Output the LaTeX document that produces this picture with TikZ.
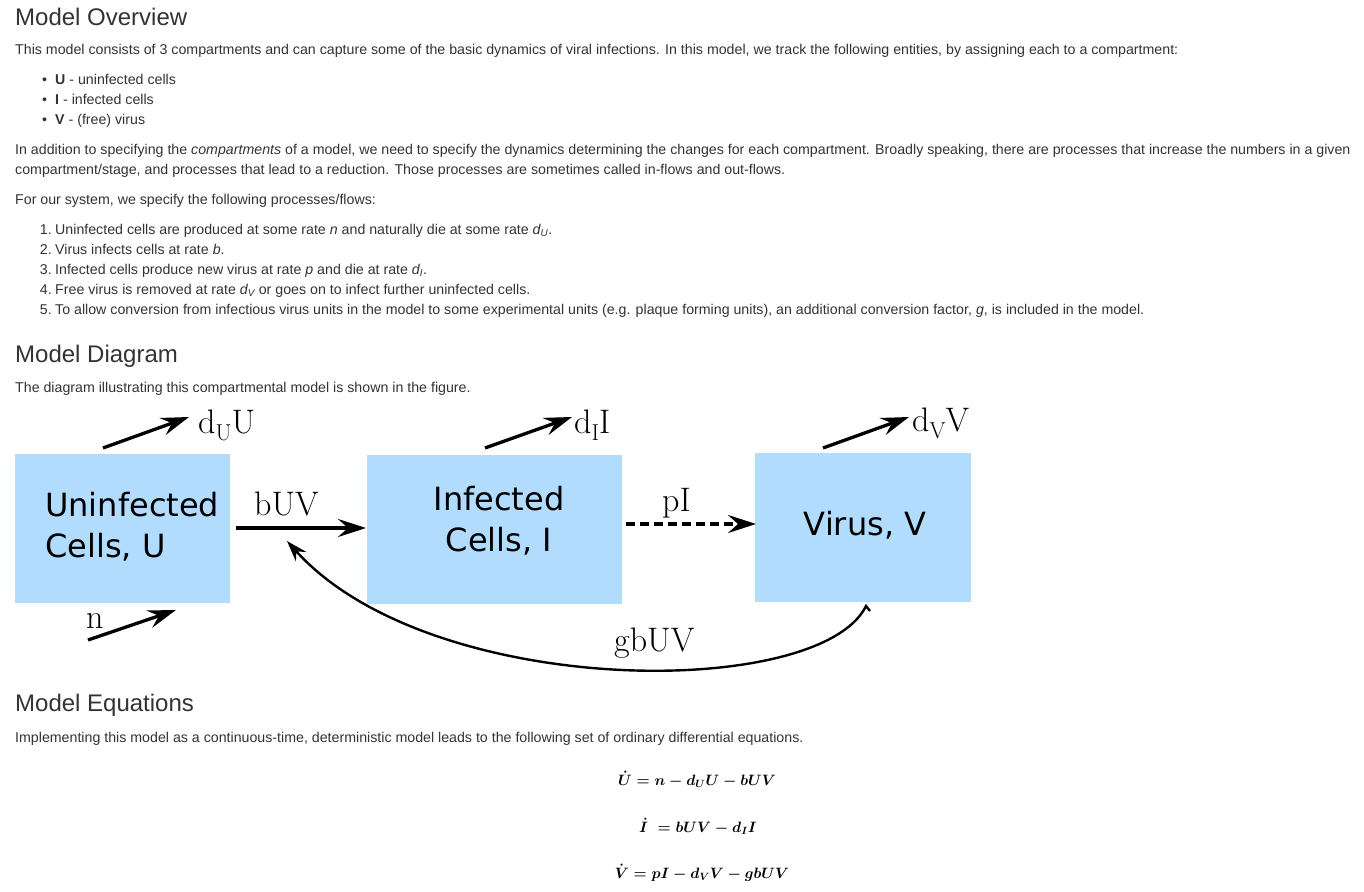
\documentclass[tikz,border=0pt]{standalone}
\usepackage{fix-cm}
\usepackage{amsmath}
\usepackage{fontspec}
\newfontfamily\arialf{Liberation Sans}
\newfontfamily\dejavu{DejaVu Sans}
\usetikzlibrary{arrows.meta}
\definecolor{txt}{HTML}{333333}
\definecolor{boxblue}{RGB}{178,220,254}
\newcommand{\subU}[1]{\raisebox{-0.22em}{\fontsize{23}{23}\selectfont #1}}
\begin{document}
\begin{tikzpicture}[x=1pt,y=-1pt,
  body/.style={font=\arialf\fontsize{14.2}{20}\selectfont, text=txt, anchor=base west, inner sep=0pt},
  num/.style={font=\arialf\fontsize{14.2}{20}\selectfont, text=txt, anchor=base east, inner sep=0pt},
  head/.style={font=\arialf\fontsize{24}{28}\selectfont, text=txt, anchor=base west, inner sep=0pt},
  comp/.style={fill=boxblue, draw=none, inner sep=0pt, anchor=north west},
  boxtext/.style={font=\dejavu\fontsize{32}{40}\selectfont, text=black, inner sep=0pt},
  lab/.style={font=\rmfamily\fontsize{34}{38}\selectfont, text=black, anchor=base west, inner sep=0pt},
  flow/.style={line width=3.3pt, -{Stealth[length=28pt,width=18pt,inset=10pt]}},
  dflow/.style={flow, dash pattern=on 9pt off 5pt},
  cflow/.style={line width=2.4pt, -{Stealth[length=21pt,width=14pt,inset=7pt]}},
  eq/.style={font=\fontsize{15}{18}\selectfont\boldmath, text=black, anchor=base, inner sep=0pt}
]
\useasboundingbox (0,0) rectangle (1364,891);
\fill[white] (0,0) rectangle (1364,891);

% ---- Model Overview ----
\node[head] (h1) at (15,26) {Model Overview};
\node[body] (p1) at (15,55) {This model consists of 3 compartments and can capture some of the basic dynamics of viral infections. In this model, we track the following entities, by assigning each to a compartment:};
\node[body] (b1) at (42,84) {•};
\node[body] (b2) at (42,104) {•};
\node[body] (b3) at (42,124) {•};
\node[body] (l1) at (55,84) {\textbf{U} - uninfected cells};
\node[body] (l2) at (55,104) {\textbf{I} - infected cells};
\node[body] (l3) at (55,124) {\textbf{V} - (free) virus};
\node[body] (p2a) at (15,154) {In addition to specifying the \textit{compartments} of a model, we need to specify the dynamics determining the changes for each compartment. Broadly speaking, there are processes that increase the numbers in a given};
\node[body] (p2b) at (15,174) {compartment/stage, and processes that lead to a reduction. Those processes are sometimes called in-flows and out-flows.};
\node[body] (p3) at (15,204) {For our system, we specify the following processes/flows:};
\node[num] (n1) at (52,234) {1.};
\node[num] (n2) at (52,254) {2.};
\node[num] (n3) at (52,274) {3.};
\node[num] (n4) at (52,294) {4.};
\node[num] (n5) at (52,314) {5.};
\node[body] (i1) at (55,234) {Uninfected cells are produced at some rate \textit{n} and naturally die at some rate \textit{d\textsubscript{U}}.};
\node[body] (i2) at (55,254) {Virus infects cells at rate \textit{b}.};
\node[body] (i3) at (55,274) {Infected cells produce new virus at rate \textit{p} and die at rate \textit{d\textsubscript{I}}.};
\node[body] (i4) at (55,294) {Free virus is removed at rate \textit{d\textsubscript{V}} or goes on to infect further uninfected cells.};
\node[body] (i5) at (55,314) {To allow conversion from infectious virus units in the model to some experimental units (e.g. plaque forming units), an additional conversion factor, \textit{g}, is included in the model.};

% ---- Model Diagram ----
\node[head] (h2) at (15,362) {Model Diagram};
\node[body] (p4) at (15,392) {The diagram illustrating this compartmental model is shown in the figure.};

\node[comp, minimum width=215, minimum height=149] (U) at (15,454) {};
\node[comp, minimum width=255, minimum height=149] (I) at (367,455) {};
\node[comp, minimum width=216, minimum height=149] (V) at (755,453) {};

\node[boxtext, anchor=base west] (Ut1) at (45,516) {Uninfected};
\node[boxtext, anchor=base west] (Ut2) at (45,557) {Cells, U};
\node[boxtext, anchor=base] (It1) at (499,510) {Infected};
\node[boxtext, anchor=base] (It2) at (499,551) {Cells, I};
\node[boxtext, anchor=base] (Vt) at (865,535) {Virus, V};

% connector end points
\coordinate (bs) at (236,528);
\coordinate (be) at (366,528);
\coordinate (ps) at (626,524);
\coordinate (pe) at (756,524);
\coordinate (dus) at (103,448);
\coordinate (due) at (189,417);
\coordinate (dis) at (485,448);
\coordinate (die) at (572,417);
\coordinate (dvs) at (823,448);
\coordinate (dve) at (909,417);
\coordinate (ns) at (88,640);
\coordinate (ne) at (176,610);
\coordinate (ghk) at (870,611);
\coordinate (gs) at (866,606);
\coordinate (ge) at (287,541);

\draw[flow] (bs) -- (be);
\draw[dflow] (ps) -- (pe);
\draw[flow] (dus) -- (due);
\draw[flow] (dis) -- (die);
\draw[flow] (dvs) -- (dve);
\draw[flow] (ns) -- (ne);
\draw[cflow] (ghk) -- (gs) .. controls (820,700) and (430,700) .. (ge);

\node[lab] (lb) at (254,515) {bUV};
\node[lab] (lp) at (662,511) {pI};
\node[lab] (ldu) at (198,433) {d\subU{U}U};
\node[lab] (ldi) at (574,433) {d\subU{I}I};
\node[lab] (ldv) at (912,431) {d\subU{V}V};
\node[lab] (ln) at (86,628) {n};
\node[lab] (lg) at (614,651) {gbUV};

% ---- Model Equations ----
\node[head] (h3) at (15,711) {Model Equations};
\node[body] (p5) at (15,742) {Implementing this model as a continuous-time, deterministic model leads to the following set of ordinary differential equations.};

\node[eq] (e1) at (697,785) {$\dot{U} = n - d_U U - bUV$};
\node[eq] (e2) at (698,832) {$\dot{I}\; = bUV - d_I I$};
\node[eq] (e3) at (702,878) {$\dot{V} = pI - d_V V - gbUV$};
\end{tikzpicture}
\end{document}
